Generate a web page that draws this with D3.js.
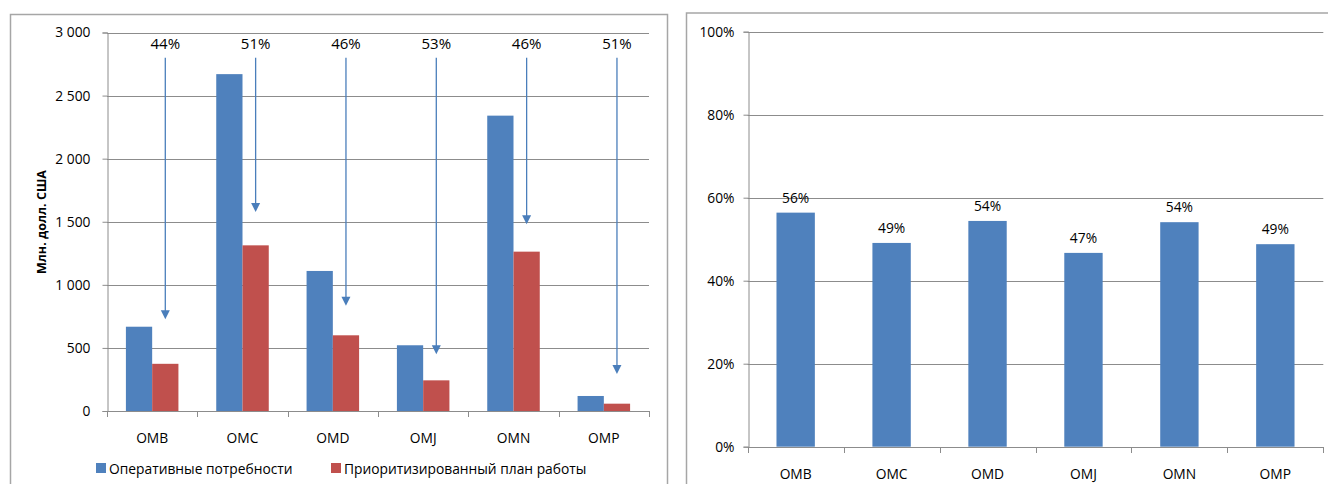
<!DOCTYPE html>
<html>
<head>
<meta charset="utf-8">
<script src="https://cdn.jsdelivr.net/npm/d3@7"></script>
<style>
  html, body { margin: 0; padding: 0; background: #fff; }
  svg { display: block; }
  text { font-family: "Open Sans", "Noto Sans", sans-serif; fill: #000; }
</style>
</head>
<body>
<svg id="chart" width="1328" height="484"></svg>
<script>
// ---- data ----
const categories = ["OMB", "OMC", "OMD", "OMJ", "OMN", "OMP"];
const operationalNeeds = [668, 2670, 1110, 521, 2341, 119];   // млн долл. США
const prioritizedPlan = [374, 1313, 600, 243, 1263, 58];      // млн долл. США
const reductionLabels = ["44%", "51%", "46%", "53%", "46%", "51%"];
const arrowTop = 2800;                                         // arrows start at this level
const arrowEnds = [727, 1577, 835, 449, 1480, 293];            // level where each arrow stops
const coverageShare = [0.564, 0.491, 0.544, 0.467, 0.541, 0.488];
const leftTicks = [0, 500, 1000, 1500, 2000, 2500, 3000];
const rightTicks = [0, 0.2, 0.4, 0.6, 0.8, 1.0];
const seriesNames = ["Оперативные потребности", "Приоритизированный план работы"];
const yTitle = "Млн. долл. США";

const BLUE = "#4f81bd", RED = "#c0504d", ARROW = "#4a7ebb";
const GRID = "#8c8c8c", FRAME = "#a6a6a6";
const FS = 13.8;

const svg = d3.select("#chart");

// ---- panel frames ----
svg.append("path")
  .attr("d", "M10.5,490 V14.5 H667.5 V490")
  .attr("fill", "none").attr("stroke", FRAME).attr("stroke-width", 1.5);
svg.append("path")
  .attr("d", "M686.5,490 V13 H1340")
  .attr("fill", "none").attr("stroke", FRAME).attr("stroke-width", 1.5);

// ================= left: grouped bars =================
const L = { x0: 107, x1: 649, y0: 411, y1: 32.5 };
const xL = d3.scaleBand().domain(categories).range([L.x0, L.x1]).padding(0);
const xLInner = d3.scaleBand().domain([0, 1])
  .range([0, xL.bandwidth()]).paddingOuter(0.72).paddingInner(0);
const yL = d3.scaleLinear().domain([0, 3000]).range([L.y0, L.y1]);

const gL = svg.append("g");

// gridlines
gL.append("g").selectAll("line").data(leftTicks.filter(d => d > 0)).join("line")
  .attr("x1", L.x0).attr("x2", L.x1)
  .attr("y1", d => Math.round(yL(d)) + 0.5).attr("y2", d => Math.round(yL(d)) + 0.5)
  .attr("stroke", GRID).attr("stroke-width", 1);

// y axis
const fmtThousands = d => d3.format(",")(d).replace(/,/g, "\u00a0");
const yAxisL = gL.append("g")
  .attr("transform", `translate(${L.x0 + 0.5},0)`)
  .call(d3.axisLeft(yL).tickValues(leftTicks).tickFormat(fmtThousands)
    .tickSize(5).tickPadding(12));
yAxisL.select(".domain").attr("stroke", GRID);
yAxisL.selectAll(".tick line").attr("stroke", GRID);
yAxisL.selectAll(".tick text").attr("font-size", FS).attr("fill", "#000")
  .attr("font-family", "Open Sans");

// bars
const groups = gL.append("g").selectAll("g").data(categories).join("g")
  .attr("transform", d => `translate(${xL(d)},0)`);
groups.append("rect")
  .attr("x", xLInner(0)).attr("width", xLInner.bandwidth())
  .attr("y", (d, i) => yL(operationalNeeds[i]))
  .attr("height", (d, i) => yL(0) - yL(operationalNeeds[i]))
  .attr("fill", BLUE);
groups.append("rect")
  .attr("x", xLInner(1)).attr("width", xLInner.bandwidth())
  .attr("y", (d, i) => yL(prioritizedPlan[i]))
  .attr("height", (d, i) => yL(0) - yL(prioritizedPlan[i]))
  .attr("fill", RED);

// x axis
const xAxisL = gL.append("g")
  .attr("transform", `translate(0,${Math.round(L.y0) + 0.5})`)
  .call(d3.axisBottom(xL).tickSize(0).tickPadding(22));
xAxisL.select(".domain").attr("stroke", GRID).attr("d", `M${L.x0},0H${L.x1}`);
xAxisL.selectAll(".tick text").attr("font-size", FS).attr("fill", "#000")
  .attr("font-family", "Open Sans");
gL.append("g").selectAll("line").data(d3.range(categories.length + 1)).join("line")
  .attr("x1", i => Math.round(L.x0 + i * xL.step()) + 0.5)
  .attr("x2", i => Math.round(L.x0 + i * xL.step()) + 0.5)
  .attr("y1", Math.round(L.y0)).attr("y2", Math.round(L.y0) + 6)
  .attr("stroke", GRID);

// arrows with reduction labels
const arrowX = i => xL(categories[i]) + xLInner(1) + xLInner.bandwidth() / 2;
const arrows = gL.append("g").selectAll("g").data(categories).join("g");
arrows.append("line")
  .attr("x1", (d, i) => arrowX(i)).attr("x2", (d, i) => arrowX(i))
  .attr("y1", yL(arrowTop)).attr("y2", (d, i) => yL(arrowEnds[i]) - 8)
  .attr("stroke", ARROW).attr("stroke-width", 1.3);
arrows.append("path")
  .attr("d", (d, i) => {
    const x = arrowX(i), y = yL(arrowEnds[i]);
    return `M${x - 4.5},${y - 9}L${x + 4.5},${y - 9}L${x},${y}Z`;
  })
  .attr("fill", ARROW);
arrows.append("text")
  .attr("x", (d, i) => arrowX(i)).attr("y", 48.5)
  .attr("text-anchor", "middle").attr("font-size", 15)
  .text((d, i) => reductionLabels[i]);

// y axis title
gL.append("text")
  .attr("transform", "translate(46,222) rotate(-90)")
  .attr("text-anchor", "middle").attr("font-size", 12.5).attr("font-weight", "bold")
  .text(yTitle);

// legend
const legend = gL.append("g");
const legendX = [96, 331];
legendX.forEach((lx, i) => {
  legend.append("rect").attr("x", lx).attr("y", 463).attr("width", 10).attr("height", 10)
    .attr("fill", i === 0 ? BLUE : RED);
  legend.append("text").attr("x", lx + 13).attr("y", 473.5)
    .attr("font-size", FS).text(seriesNames[i]);
});

// ================= right: share bars =================
const R = { x0: 747.7, x1: 1323.3, y0: 446.7, y1: 31.7 };
const xR = d3.scaleBand().domain(categories).range([R.x0, R.x1]).padding(0);
const barW = xR.bandwidth() * 0.4;
const yR = d3.scaleLinear().domain([0, 1]).range([R.y0, R.y1]);

const gR = svg.append("g");

gR.append("g").selectAll("line").data(rightTicks.filter(d => d > 0)).join("line")
  .attr("x1", R.x0).attr("x2", R.x1)
  .attr("y1", d => Math.round(yR(d)) + 0.5).attr("y2", d => Math.round(yR(d)) + 0.5)
  .attr("stroke", GRID).attr("stroke-width", 1);

const yAxisR = gR.append("g")
  .attr("transform", `translate(${Math.round(R.x0) + 0.5},0)`)
  .call(d3.axisLeft(yR).tickValues(rightTicks).tickFormat(d3.format(".0%"))
    .tickSize(5).tickPadding(9));
yAxisR.select(".domain").attr("stroke", GRID);
yAxisR.selectAll(".tick line").attr("stroke", GRID);
yAxisR.selectAll(".tick text").attr("font-size", FS).attr("fill", "#000")
  .attr("font-family", "Open Sans");

gR.append("g").selectAll("rect").data(categories).join("rect")
  .attr("x", d => xR(d) + (xR.bandwidth() - barW) / 2)
  .attr("width", barW)
  .attr("y", (d, i) => yR(coverageShare[i]))
  .attr("height", (d, i) => yR(0) - yR(coverageShare[i]))
  .attr("fill", BLUE);

gR.append("g").selectAll("text").data(categories).join("text")
  .attr("x", d => xR(d) + xR.bandwidth() / 2)
  .attr("y", (d, i) => yR(coverageShare[i]) - 10)
  .attr("text-anchor", "middle").attr("font-size", FS)
  .text((d, i) => d3.format(".0%")(coverageShare[i]));

const xAxisR = gR.append("g")
  .attr("transform", `translate(0,${Math.round(R.y0) + 0.5})`)
  .call(d3.axisBottom(xR).tickSize(0).tickPadding(22));
xAxisR.select(".domain").attr("stroke", GRID).attr("d", `M${R.x0},0H${R.x1}`);
xAxisR.selectAll(".tick text").attr("font-size", FS).attr("fill", "#000")
  .attr("font-family", "Open Sans");
gR.append("g").selectAll("line").data(d3.range(categories.length + 1)).join("line")
  .attr("x1", i => Math.round(R.x0 + i * xR.step()) + 0.5)
  .attr("x2", i => Math.round(R.x0 + i * xR.step()) + 0.5)
  .attr("y1", Math.round(R.y0)).attr("y2", Math.round(R.y0) + 6)
  .attr("stroke", GRID);
</script>
</body>
</html>
